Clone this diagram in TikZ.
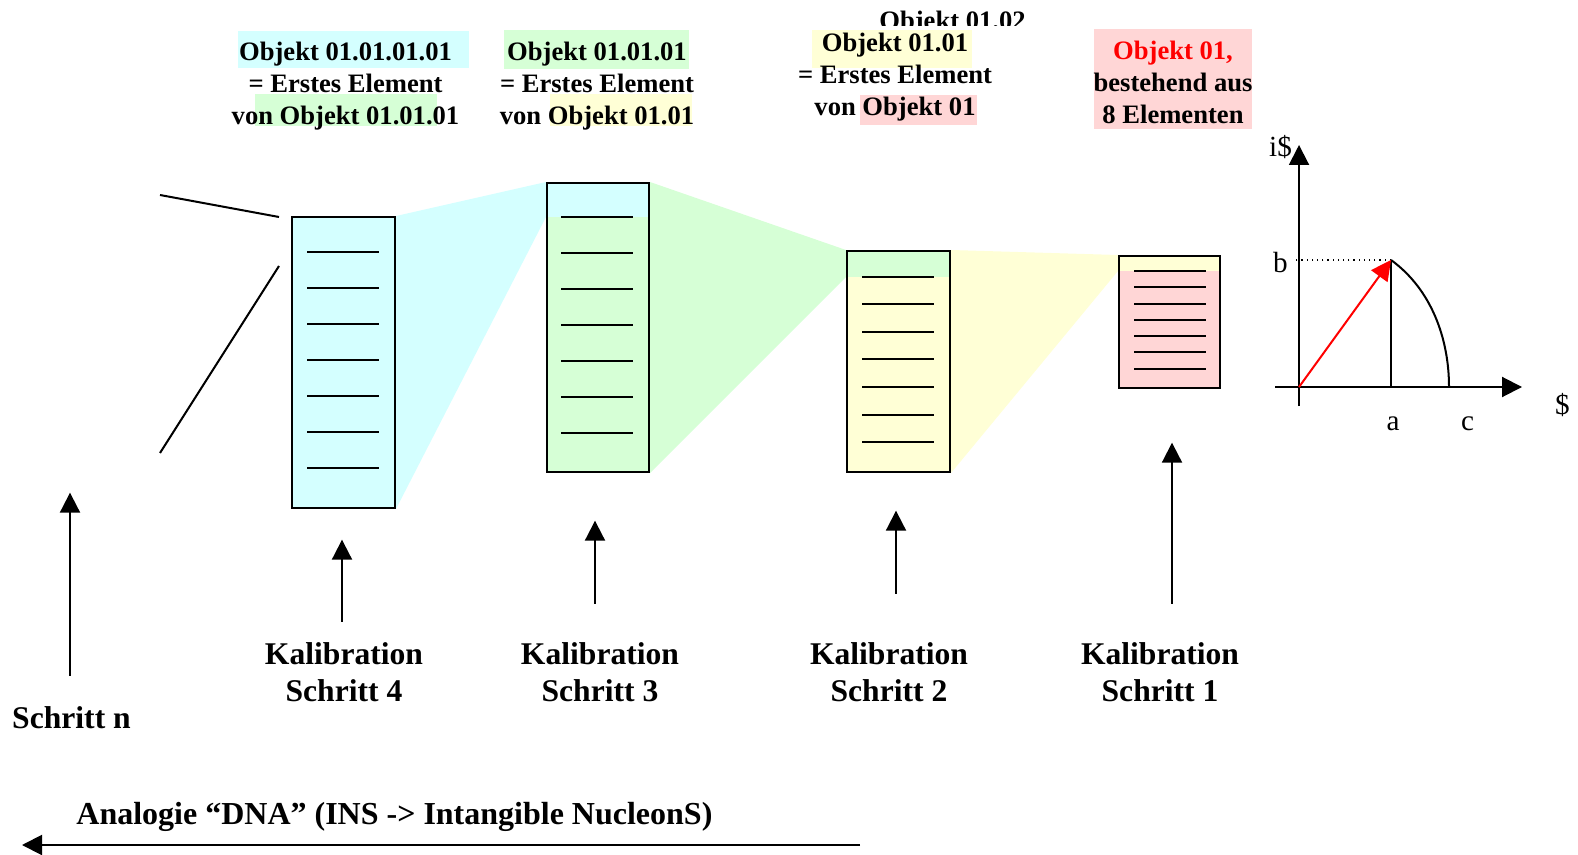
\documentclass[tikz,border=0pt]{standalone}
\usepackage{fontspec}
\setmainfont{Liberation Serif}
\usetikzlibrary{arrows.meta,calc,backgrounds}
\definecolor{hcyan}{RGB}{212,255,255}
\definecolor{hgreen}{RGB}{214,255,214}
\definecolor{hyellow}{RGB}{255,255,214}
\definecolor{hpink}{RGB}{255,214,214}

\begin{document}
\begin{tikzpicture}[x=0.5pt,y=-0.5pt,
  kbox/.style={draw,line width=1pt,inner sep=0pt},
  strich/.style={line width=1pt},
  pfeil/.style={-{Triangle[length=10pt,width=10pt]},line width=1pt},
  kopf/.style={font=\fontsize{13.3}{16}\selectfont\bfseries,align=center,inner sep=0pt},
  kal/.style={font=\fontsize{15.8}{18.5}\selectfont\bfseries,align=center,inner sep=0pt},
  achse/.style={font=\fontsize{14.6}{17}\selectfont,inner sep=0pt,anchor=base}]

  \useasboundingbox (0,0) rectangle (1578,855);

  \fill[hcyan] (238,31) rectangle (469,68);
  \fill[hgreen] (255,94) rectangle (437,126);
  \fill[hgreen] (504,30) rectangle (689,69);
  \fill[hyellow] (550,94) rectangle (692,126);
  \fill[hyellow] (812,30) rectangle (972,68);
  \fill[hpink] (860,95) rectangle (977,125);
  \fill[hpink] (1094,29) rectangle (1252,129);

  \begin{scope}
    \clip (850,0) rectangle (1060,26);
    \node[kopf,anchor=base] (o0102) at (952.5,30) {Objekt 01.02};
  \end{scope}
  \node[kopf] (o4) at (345.5,86) {Objekt 01.01.01.01\\= Erstes Element\\von Objekt 01.01.01};
  \node[kopf] (o3) at (597,86) {Objekt 01.01.01\\= Erstes Element\\von Objekt 01.01};
  \node[kopf] (o2) at (895,77.6) {Objekt 01.01\\= Erstes Element\\von Objekt 01};
  \node[kopf] (o1) at (1173,82.6) {{\color{red}Objekt 01,}\\bestehend aus\\8 Elementen};

  \node[kbox,minimum width=51.5pt,minimum height=145.5pt] (k4) at (343.5,362.5) {};
  \node[kbox,minimum width=51pt,minimum height=144.5pt] (k3) at (598,327.5) {};
  \node[kbox,minimum width=51.5pt,minimum height=110.5pt] (k2) at (898.5,361.5) {};
  \node[kbox,minimum width=50.5pt,minimum height=66pt] (k1) at (1169.5,322) {};

  \begin{scope}[on background layer]
    \fill[hcyan] (k4.north west) rectangle (k4.south east);
    \fill[hcyan] (k4.north east) -- (k3.north west) -- ($(k3.north west)+(0,35)$) -- (k4.south east) -- cycle;
    \fill[hcyan] (k3.north west) rectangle ($(k3.north east)+(0,35)$);
    \fill[hgreen] ($(k3.north west)+(0,35)$) rectangle (k3.south east);
    \fill[hgreen] (k3.north east) -- (k2.north west) -- ($(k2.north west)+(0,27)$) -- (k3.south east) -- cycle;
    \fill[hgreen] (k2.north west) rectangle ($(k2.north east)+(0,27)$);
    \fill[hyellow] ($(k2.north west)+(0,27)$) rectangle (k2.south east);
    \fill[hyellow] (k2.north east) -- (k1.north west) -- ($(k1.north west)+(0,16)$) -- (k2.south east) -- cycle;
    \fill[hyellow] (k1.north west) rectangle ($(k1.north east)+(0,16)$);
    \fill[hpink] ($(k1.north west)+(0,16)$) rectangle (k1.south east);
  \end{scope}

  \foreach \i in {0,...,6} {
    \draw[strich] ($(k4.north west)+(16,{36+36*\i})$) -- ++(72,0);
    \draw[strich] ($(k3.north west)+(15,{35+36*\i})$) -- ++(72,0);
    \draw[strich] ($(k2.north west)+(16,{27+27.5*\i})$) -- ++(72,0);
    \draw[strich] ($(k1.north west)+(16,{16+16.3*\i})$) -- ++(72,0);
  }

  \coordinate (n1) at (160,195);
  \coordinate (n2) at (160,453);
  \draw[strich] (n1) -- ($(k4.north west)+(-12,1)$);
  \draw[strich] (n2) -- ($(k4.north west)+(-12,50)$);

  \node[kal] (l4) at (344,671.7) {Kalibration\\Schritt 4};
  \node[kal] (l3) at (600,671.7) {Kalibration\\Schritt 3};
  \node[kal] (l2) at (889,671.7) {Kalibration\\Schritt 2};
  \node[kal] (l1) at (1160,671.7) {Kalibration\\Schritt 1};
  \node[kal,anchor=base] (ln) at (71.5,728) {Schritt n};

  \draw[pfeil] ($(l4.north)+(-2,-20)$) -- ++(0,-82);
  \draw[pfeil] ($(l3.north)+(-5,-38)$) -- ++(0,-83);
  \draw[pfeil] ($(l2.north)+(7,-48)$) -- ++(0,-83);
  \draw[pfeil] ($(l1.north)+(12,-38)$) -- ++(0,-161);
  \draw[pfeil] ($(ln.north)+(-1.5,-30)$) -- ++(0,-183);

  \node[kal,anchor=base west,font=\fontsize{16}{18.5}\selectfont\bfseries] (dna) at (76,824) {Analogie “DNA” (INS -> Intangible NucleonS)};
  \coordinate (d1) at (860,845);
  \coordinate (d0) at (22,845);
  \draw[pfeil] (d1) -- (d0);

  \coordinate (O) at (1299,387);
  \coordinate (P) at (1391,260);
  \coordinate (C) at (1449,387);
  \coordinate (yb) at (1299,406);
  \coordinate (yt) at (1299,145);
  \coordinate (xl) at (1275,387);
  \coordinate (xr) at (1522,387);
  \draw[pfeil] (yb) -- (yt);
  \draw[pfeil] (xl) -- (xr);
  \draw[strich] (P) -- (P |- O);
  \draw[strich] (P) .. controls (1431,289) and (1449,338) .. (C);
  \draw[dotted,line width=0.6pt] (P) -- (1293,260);
  \draw[pfeil,red] (O) -- (P);

  \node[achse] (ti) at (1280.5,157) {i\$};
  \node[achse] (tb) at (1280.5,273) {b};
  \node[achse] (ta) at (1393,430) {a};
  \node[achse] (tc) at (1467.5,430) {c};
  \node[achse] (td) at (1562.5,415) {\$};
\end{tikzpicture}
\end{document}
